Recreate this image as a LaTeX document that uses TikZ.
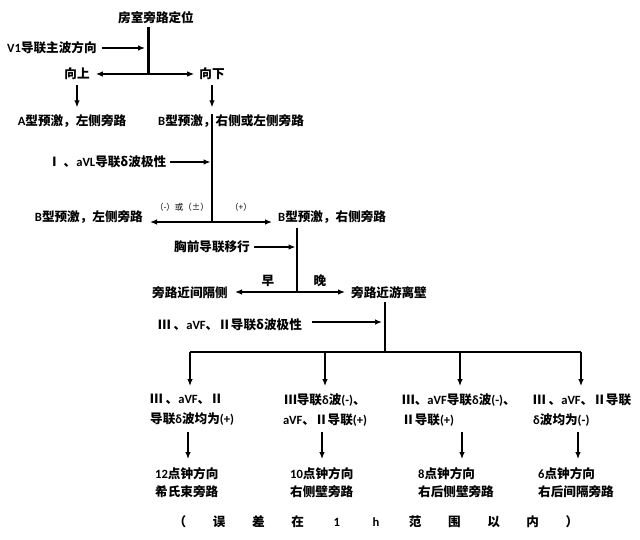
\documentclass[tikz,border=0pt]{standalone}
\usepackage{fontspec}
\usetikzlibrary{arrows.meta}
\setmainfont{Noto Sans CJK SC}
\newfontfamily\latf{Carlito}
\newcommand\bl[1]{{\latf\bfseries #1}}
\newcommand\fs{\fontsize{12.6}{20}\selectfont\bfseries}
\begin{document}
\begin{tikzpicture}[x=1pt,y=-1pt,
  every node/.style={inner sep=0pt, font=\fs},
  tip/.tip={Latex[length=7pt,width=5.5pt]},
  arr/.style={-tip, line width=1.2pt},
  trunk/.style={line width=1.8pt},
  hline/.style={line width=1.4pt},
  small/.style={font=\fontsize{8.5}{11}\selectfont},
  block/.style={align=left, anchor=north west, font=\fontsize{12.6}{20}\selectfont\bfseries},
  blockc/.style={align=center, anchor=north, font=\fontsize{12.6}{20}\selectfont\bfseries},
  res/.style={align=left, anchor=north west, font=\fontsize{12.6}{18.5}\selectfont\bfseries}]
\useasboundingbox (0,0) rectangle (640,540);
\fill[white] (0,0) rectangle (640,540);

% level 1
\node (title) at (156,18) {房室旁路定位};
\coordinate (t0) at (148,27);
\coordinate (t1) at (148,74);
\draw[line width=3pt] (t0) -- (t1);
\node[anchor=west] (v1) at (7,48) {\bl{V1}导联主波方向};
\draw[arr] ([xshift=5pt]v1.east) -- (v1.east -| t1) [shorten >=3pt];
\node (up) at (77,74) {向上};
\node (down) at (212,74) {向下};
\draw[arr] (t1) -- ([xshift=6pt]up.east);
\draw[arr] (t1) -- ([xshift=-5pt]down.west);
\node (a) at (72,121) {\bl{A}型预激，左侧旁路};
\node[anchor=west] (ball) at (158,121) {\bl{B}型预激，右侧或左侧旁路};
\draw[arr, shorten >=7pt] ([yshift=-5pt]up.south) -- (up.south |- a.north);
\draw[arr, shorten >=7pt] ([yshift=-5pt]down.south) -- (down.south |- ball.north);

% level 2
\coordinate (s2) at (212,114);
\coordinate (j2) at (212,222);
\draw[trunk] (s2) -- (j2);
\node[anchor=west] (avl) at (48,162) {Ⅰ 、\bl{aVL}导联δ波极性};
\draw[arr, shorten >=1.5pt] ([xshift=4pt]avl.east) -- (avl.east -| j2);
\node[anchor=east] (bl) at (143,217) {\bl{B}型预激，左侧旁路};
\node[anchor=west] (br) at (278,217) {\bl{B}型预激，右侧旁路};
\coordinate (l2) at (150,222);
\coordinate (r2) at (272,222);
\draw[arr] (j2) -- (l2);
\draw[arr] (j2) -- (r2);
\node[small] (neg) at (182,207) {（-）或（±）};
\node[small] (pos) at (241,207) {（+）};

% level 3
\coordinate (s3) at (297,228);
\coordinate (j3) at (297,292);
\draw[trunk] (s3) -- (j3);
\node[anchor=east] (chest) at (250,247) {胸前导联移行};
\draw[arr, shorten >=1.5pt] ([xshift=4pt]chest.east) -- (chest.east -| j3);
\node[anchor=east] (sep) at (228,293) {旁路近间隔侧};
\node[anchor=west] (free) at (351,293) {旁路近游离壁};
\coordinate (l3) at (235,292);
\coordinate (r3) at (345,292);
\draw[arr] (j3) -- (l3);
\draw[arr] (j3) -- (r3);
\node (early) at (268,281) {早};
\node (late) at (320,281) {晚};

% level 4
\coordinate (s4) at (385,302);
\coordinate (j4) at (385,352);
\draw[trunk] (s4) -- (j4);
\node[anchor=west] (avf) at (158,325) {Ⅲ 、\bl{aVF}、Ⅱ导联δ波极性};
\coordinate (m4) at (385,322);
\draw[arr, shorten >=3pt] ([xshift=10pt,yshift=3pt]avf.east) -- (m4);
\coordinate (h1) at (190,352);
\coordinate (h4) at (581,352);
\draw[hline] (h1) -- (h4);

\node[block] (c1) at (150,394) {Ⅲ 、\bl{aVF}、Ⅱ\\导联\bl{δ}波均为\bl{(+)}};
\node[blockc] (c2) at (325,394) {Ⅲ导联\bl{δ}波\bl{(-)}、\\\bl{aVF}、Ⅱ导联\bl{(+)}};
\node[block] (c3) at (402,394) {Ⅲ、\bl{aVF}导联\bl{δ}波\bl{(-)}、\\Ⅱ导联\bl{(+)}};
\node[block] (c4) at (533,394) {Ⅲ 、\bl{aVF}、Ⅱ导联\\\bl{δ}波均为\bl{(-)}};

\coordinate (k2) at (325,352);
\coordinate (k3) at (460,352);
\draw[arr] (h1) -- (h1 |- 0,386);
\draw[arr] (k2) -- (k2 |- 0,386);
\draw[arr] (k3) -- (k3 |- 0,386);
\draw[arr] (h4) -- (h4 |- 0,386);

\node[res] (d1) at (155,467) {\bl{12}点钟方向\\希氏束旁路};
\node[res] (d2) at (290,467) {\bl{10}点钟方向\\右侧壁旁路};
\node[res] (d3) at (418,467) {\bl{8}点钟方向\\右后侧壁旁路};
\node[res] (d4) at (538,467) {\bl{6}点钟方向\\右后间隔旁路};

\draw[arr] (188,432) -- (188,459);
\draw[arr] (322,432) -- (322,459);
\draw[arr] (462,432) -- (462,459);
\draw[arr] (578,432) -- (578,459);

\node (note) at (376,522) {\makebox[39.2pt]{（}\makebox[39.2pt]{误}\makebox[39.2pt]{差}\makebox[39.2pt]{在}\makebox[39.2pt]{\bl{1}}\makebox[39.2pt]{\bl{h}}\makebox[39.2pt]{范}\makebox[39.2pt]{围}\makebox[39.2pt]{以}\makebox[39.2pt]{内}\makebox[39.2pt]{）}};
\end{tikzpicture}
\end{document}
